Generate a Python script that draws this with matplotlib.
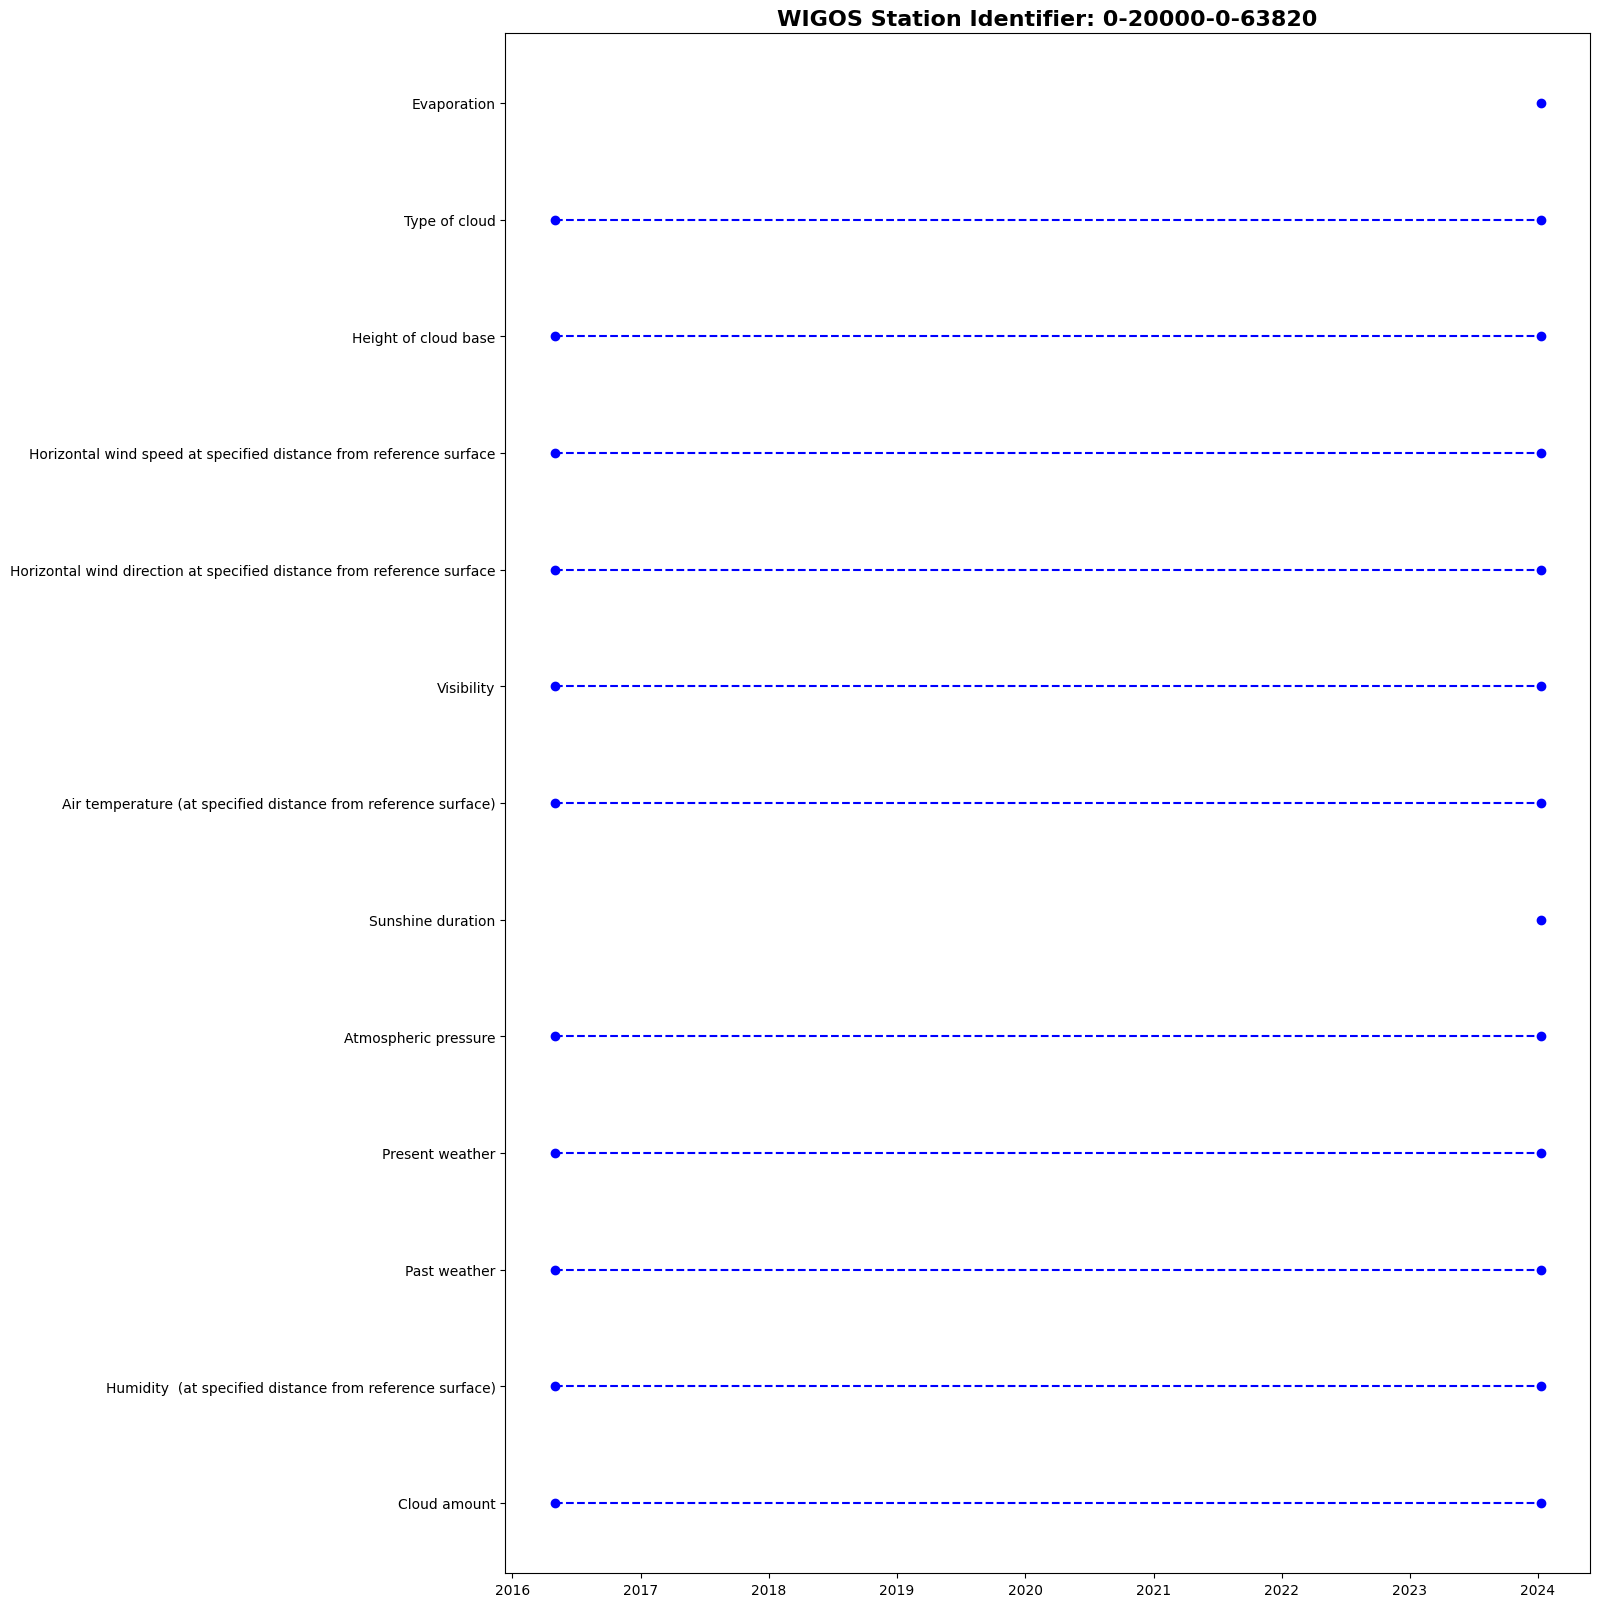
import matplotlib
matplotlib.use("Agg")
import matplotlib.pyplot as plt
import pandas as pd

categories = [
    "Cloud amount",
    "Humidity  (at specified distance from reference surface)",
    "Past weather",
    "Present weather",
    "Atmospheric pressure",
    "Sunshine duration",
    "Air temperature (at specified distance from reference surface)",
    "Visibility",
    "Horizontal wind direction at specified distance from reference surface",
    "Horizontal wind speed at specified distance from reference surface",
    "Height of cloud base",
    "Type of cloud",
    "Evaporation",
]
start_dates = [
    "2016-04-30", "2016-04-30", "2016-04-30", "2016-04-30", "2016-04-30",
    "2024-01-09", "2016-04-30", "2016-04-30", "2016-04-30", "2016-04-30",
    "2016-04-30", "2016-04-30", "2024-01-09",
]
end_dates = ["2024-01-09"] * 13

fig = plt.figure(figsize=(16, 16.08), dpi=100)
ax = fig.add_axes([0.3158, 0.0212, 0.99375 - 0.3158, 0.9789 - 0.0212])

for cat, s, e in zip(categories, start_dates, end_dates):
    ds, de = pd.Timestamp(s), pd.Timestamp(e)
    if ds == de:
        ax.plot([ds], [cat], "bo")
    else:
        ax.plot([ds, de], [cat, cat], "bo--")

ax.set_title("WIGOS Station Identifier: 0-20000-0-63820", fontsize=16, fontweight="bold")
fig.savefig("out.png", dpi=100)
